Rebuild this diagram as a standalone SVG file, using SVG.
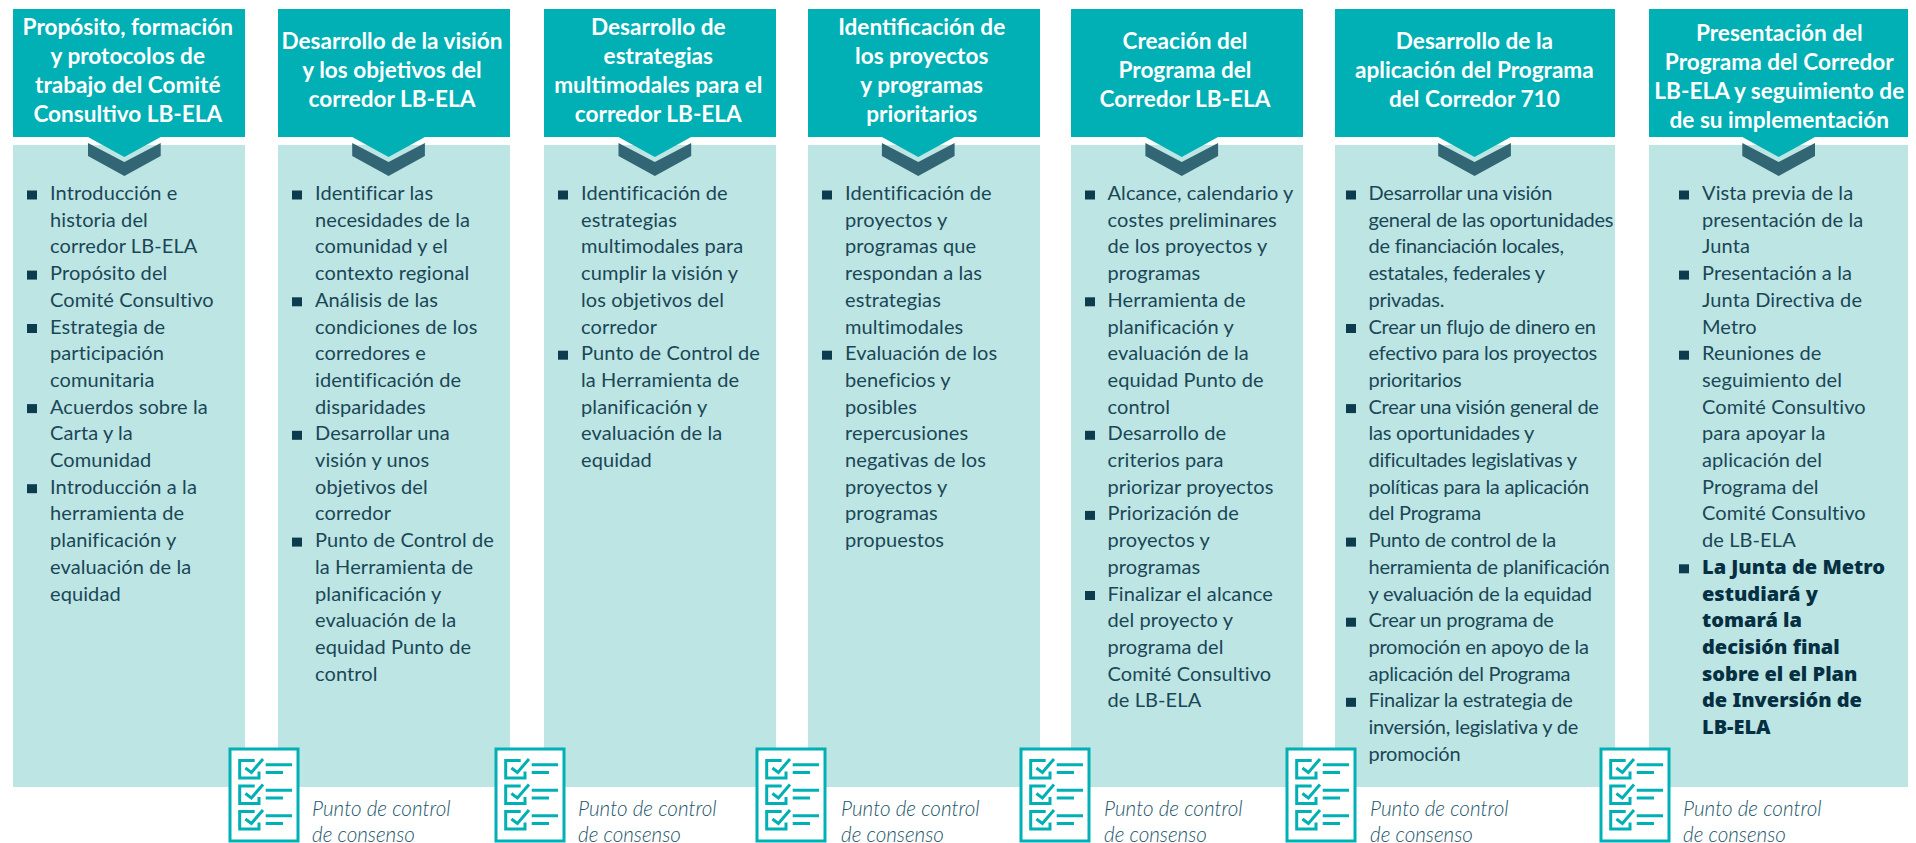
<svg xmlns="http://www.w3.org/2000/svg" width="1916" height="843" viewBox="0 0 1916 843">
<style>
.h{fill:#00b0b5}.b{fill:#bde5e3}.d{fill:#336675}.k{fill:#0d3c4f}
.ht{font:700 22.6px Lato,"Open Sans",sans-serif;fill:#fff;text-anchor:middle}
.t{font:400 20px Lato,"Open Sans",sans-serif;fill:#1a4757;letter-spacing:.1px}
.n .t{letter-spacing:-.25px}
.tb{font:900 20px "Noto Sans","Open Sans",sans-serif;fill:#052f42}
.p{font:italic 300 20.6px Lato,"Open Sans",sans-serif;fill:#22566a}
.ic{fill:none;stroke:#00b0b5;stroke-width:3}
</style>
<defs>
<g id="row"><path class="ic" d="M25.7 12.4H10.7V30H30V23.4M16.4 20L22.4 24.4L34 11M36.7 16.7H63M36.7 24.4H54"/></g>
<g id="check"><rect x="1" y="1" width="68" height="92" fill="#fff" stroke="#00b0b5" stroke-width="3"/><use href="#row"/><use href="#row" y="25.5"/><use href="#row" y="51"/></g>
<g id="chev"><polygon class="d" points="0,143 36.35,162 72.7,143 72.7,156 36.35,176 0,156"/><polygon class="h" points="0,137 72.7,137 36.35,157"/></g>
</defs>
<g id="col1">
<rect class="b" x="13" y="145" width="232" height="642"/><rect class="h" x="13" y="9" width="232" height="128"/><use href="#chev" x="88"/>
<text class="ht" x="127.800" y="35">Propósito, formación</text><text class="ht" x="127.800" y="64">y protocolos de</text><text class="ht" x="127.800" y="93">trabajo del Comité</text><text class="ht" x="127.800" y="121.500">Consultivo LB-ELA</text>
<g transform="translate(50 0)">
<rect class="k" x="-23" y="190.500" width="10" height="9"/><text class="t" y="200">Introducción e</text><text class="t" y="226.700">historia del</text><text class="t" y="253.400">corredor LB-ELA</text>
<rect class="k" x="-23" y="270.600" width="10" height="9"/><text class="t" y="280.100">Propósito del</text><text class="t" y="306.800">Comité Consultivo</text>
<rect class="k" x="-23" y="324" width="10" height="9"/><text class="t" y="333.500">Estrategia de</text><text class="t" y="360.200">participación</text><text class="t" y="386.900">comunitaria</text>
<rect class="k" x="-23" y="404.100" width="10" height="9"/><text class="t" y="413.600">Acuerdos sobre la</text><text class="t" y="440.300">Carta y la</text><text class="t" y="467">Comunidad</text>
<rect class="k" x="-23" y="484.200" width="10" height="9"/><text class="t" y="493.700">Introducción a la</text><text class="t" y="520.400">herramienta de</text><text class="t" y="547.100">planificación y</text><text class="t" y="573.800">evaluación de la</text><text class="t" y="600.500">equidad</text>
</g></g>
<g id="col2">
<rect class="b" x="278" y="145" width="232" height="642"/><rect class="h" x="278" y="9" width="232" height="128"/><use href="#chev" x="352.200"/>
<text class="ht" x="392" y="49">Desarrollo de la visión</text><text class="ht" x="392" y="78">y los objetivos del</text><text class="ht" x="392" y="107">corredor LB-ELA</text>
<g transform="translate(315 0)">
<rect class="k" x="-23" y="190.500" width="10" height="9"/><text class="t" y="200">Identificar las</text><text class="t" y="226.700">necesidades de la</text><text class="t" y="253.400">comunidad y el</text><text class="t" y="280.100">contexto regional</text>
<rect class="k" x="-23" y="297.300" width="10" height="9"/><text class="t" y="306.800">Análisis de las</text><text class="t" y="333.500">condiciones de los</text><text class="t" y="360.200">corredores e</text><text class="t" y="386.900">identificación de</text><text class="t" y="413.600">disparidades</text>
<rect class="k" x="-23" y="430.800" width="10" height="9"/><text class="t" y="440.300">Desarrollar una</text><text class="t" y="467">visión y unos</text><text class="t" y="493.700">objetivos del</text><text class="t" y="520.400">corredor</text>
<rect class="k" x="-23" y="537.600" width="10" height="9"/><text class="t" y="547.100">Punto de Control de</text><text class="t" y="573.800">la Herramienta de</text><text class="t" y="600.500">planificación y</text><text class="t" y="627.200">evaluación de la</text><text class="t" y="653.900">equidad Punto de</text><text class="t" y="680.600">control</text>
</g></g>
<g id="col3">
<rect class="b" x="544" y="145" width="232" height="642"/><rect class="h" x="544" y="9" width="232" height="128"/><use href="#chev" x="618.500"/>
<text class="ht" x="658.300" y="35">Desarrollo de</text><text class="ht" x="658.300" y="64">estrategias</text><text class="ht" x="658.300" y="93">multimodales para el</text><text class="ht" x="658.300" y="121.500">corredor LB-ELA</text>
<g transform="translate(581 0)">
<rect class="k" x="-23" y="190.500" width="10" height="9"/><text class="t" y="200">Identificación de</text><text class="t" y="226.700">estrategias</text><text class="t" y="253.400">multimodales para</text><text class="t" y="280.100">cumplir la visión y</text><text class="t" y="306.800">los objetivos del</text><text class="t" y="333.500">corredor</text>
<rect class="k" x="-23" y="350.700" width="10" height="9"/><text class="t" y="360.200">Punto de Control de</text><text class="t" y="386.900">la Herramienta de</text><text class="t" y="413.600">planificación y</text><text class="t" y="440.300">evaluación de la</text><text class="t" y="467">equidad</text>
</g></g>
<g id="col4">
<rect class="b" x="808" y="145" width="232" height="642"/><rect class="h" x="808" y="9" width="232" height="128"/><use href="#chev" x="881.900"/>
<text class="ht" x="921.700" y="35">Identificación de</text><text class="ht" x="921.700" y="64">los proyectos</text><text class="ht" x="921.700" y="93">y programas</text><text class="ht" x="921.700" y="121.500">prioritarios</text>
<g transform="translate(845 0)">
<rect class="k" x="-23" y="190.500" width="10" height="9"/><text class="t" y="200">Identificación de</text><text class="t" y="226.700">proyectos y</text><text class="t" y="253.400">programas que</text><text class="t" y="280.100">respondan a las</text><text class="t" y="306.800">estrategias</text><text class="t" y="333.500">multimodales</text>
<rect class="k" x="-23" y="350.700" width="10" height="9"/><text class="t" y="360.200">Evaluación de los</text><text class="t" y="386.900">beneficios y</text><text class="t" y="413.600">posibles</text><text class="t" y="440.300">repercusiones</text><text class="t" y="467">negativas de los</text><text class="t" y="493.700">proyectos y</text><text class="t" y="520.400">programas</text><text class="t" y="547.100">propuestos</text>
</g></g>
<g id="col5">
<rect class="b" x="1071" y="145" width="232" height="642"/><rect class="h" x="1071" y="9" width="232" height="128"/><use href="#chev" x="1145.400"/>
<text class="ht" x="1185" y="49">Creación del</text><text class="ht" x="1185" y="78">Programa del</text><text class="ht" x="1185" y="107">Corredor LB-ELA</text>
<g transform="translate(1107.500 0)">
<rect class="k" x="-22.500" y="190.500" width="10" height="9"/><text class="t" y="200">Alcance, calendario y</text><text class="t" y="226.700">costes preliminares</text><text class="t" y="253.400">de los proyectos y</text><text class="t" y="280.100">programas</text>
<rect class="k" x="-22.500" y="297.300" width="10" height="9"/><text class="t" y="306.800">Herramienta de</text><text class="t" y="333.500">planificación y</text><text class="t" y="360.200">evaluación de la</text><text class="t" y="386.900">equidad Punto de</text><text class="t" y="413.600">control</text>
<rect class="k" x="-22.500" y="430.800" width="10" height="9"/><text class="t" y="440.300">Desarrollo de</text><text class="t" y="467">criterios para</text><text class="t" y="493.700">priorizar proyectos</text>
<rect class="k" x="-22.500" y="510.900" width="10" height="9"/><text class="t" y="520.400">Priorización de</text><text class="t" y="547.100">proyectos y</text><text class="t" y="573.800">programas</text>
<rect class="k" x="-22.500" y="591" width="10" height="9"/><text class="t" y="600.500">Finalizar el alcance</text><text class="t" y="627.200">del proyecto y</text><text class="t" y="653.900">programa del</text><text class="t" y="680.600">Comité Consultivo</text><text class="t" y="707.300">de LB-ELA</text>
</g></g>
<g id="col6">
<rect class="b" x="1335" y="145" width="280" height="642"/><rect class="h" x="1335" y="9" width="280" height="128"/><use href="#chev" x="1438.200"/>
<text class="ht" x="1474.400" y="49">Desarrollo de la</text><text class="ht" x="1474.400" y="78">aplicación del Programa</text><text class="ht" x="1474.400" y="107">del Corredor 710</text>
<g class="n" transform="translate(1368.500 0)">
<rect class="k" x="-22.500" y="190.500" width="10" height="9"/><text class="t" y="200">Desarrollar una visión</text><text class="t" y="226.700">general de las oportunidades</text><text class="t" y="253.400">de financiación locales,</text><text class="t" y="280.100">estatales, federales y</text><text class="t" y="306.800">privadas.</text>
<rect class="k" x="-22.500" y="324" width="10" height="9"/><text class="t" y="333.500">Crear un flujo de dinero en</text><text class="t" y="360.200">efectivo para los proyectos</text><text class="t" y="386.900">prioritarios</text>
<rect class="k" x="-22.500" y="404.100" width="10" height="9"/><text class="t" y="413.600">Crear una visión general de</text><text class="t" y="440.300">las oportunidades y</text><text class="t" y="467">dificultades legislativas y</text><text class="t" y="493.700">políticas para la aplicación</text><text class="t" y="520.400">del Programa</text>
<rect class="k" x="-22.500" y="537.600" width="10" height="9"/><text class="t" y="547.100">Punto de control de la</text><text class="t" y="573.800">herramienta de planificación</text><text class="t" y="600.500">y evaluación de la equidad</text>
<rect class="k" x="-22.500" y="617.700" width="10" height="9"/><text class="t" y="627.200">Crear un programa de</text><text class="t" y="653.900">promoción en apoyo de la</text><text class="t" y="680.600">aplicación del Programa</text>
<rect class="k" x="-22.500" y="697.800" width="10" height="9"/><text class="t" y="707.300">Finalizar la estrategia de</text><text class="t" y="734">inversión, legislativa y de</text><text class="t" y="760.700">promoción</text>
</g></g>
<g id="col7">
<rect class="b" x="1649" y="145" width="259" height="642"/><rect class="h" x="1649" y="9" width="259" height="128"/><use href="#chev" x="1742.300"/>
<text class="ht" x="1779.300" y="41">Presentación del</text><text class="ht" x="1779.300" y="70">Programa del Corredor</text><text class="ht" x="1779.300" y="99">LB-ELA y seguimiento de</text><text class="ht" x="1779.300" y="127.500">de su implementación</text>
<g transform="translate(1702 0)">
<rect class="k" x="-23" y="190.500" width="10" height="9"/><text class="t" y="200">Vista previa de la</text><text class="t" y="226.700">presentación de la</text><text class="t" y="253.400">Junta</text>
<rect class="k" x="-23" y="270.600" width="10" height="9"/><text class="t" y="280.100">Presentación a la</text><text class="t" y="306.800">Junta Directiva de</text><text class="t" y="333.500">Metro</text>
<rect class="k" x="-23" y="350.700" width="10" height="9"/><text class="t" y="360.200">Reuniones de</text><text class="t" y="386.900">seguimiento del</text><text class="t" y="413.600">Comité Consultivo</text><text class="t" y="440.300">para apoyar la</text><text class="t" y="467">aplicación del</text><text class="t" y="493.700">Programa del</text><text class="t" y="520.400">Comité Consultivo</text><text class="t" y="547.100">de LB-ELA</text>
<rect class="k" x="-23" y="564.300" width="10" height="9"/><text class="tb" y="573.800">La Junta de Metro</text><text class="tb" y="600.500">estudiará y</text><text class="tb" y="627.200">tomará la</text><text class="tb" y="653.900">decisión final</text><text class="tb" y="680.600">sobre el el Plan</text><text class="tb" y="707.300">de Inversión de</text><text class="tb" y="734">LB-ELA</text>
</g></g>
<g id="check1"><use href="#check" x="229" y="748"/><text class="p" x="312" y="816">Punto de control</text><text class="p" x="312" y="842">de consenso</text></g>
<g id="check2"><use href="#check" x="495" y="748"/><text class="p" x="578" y="816">Punto de control</text><text class="p" x="578" y="842">de consenso</text></g>
<g id="check3"><use href="#check" x="756" y="748"/><text class="p" x="841" y="816">Punto de control</text><text class="p" x="841" y="842">de consenso</text></g>
<g id="check4"><use href="#check" x="1020" y="748"/><text class="p" x="1104" y="816">Punto de control</text><text class="p" x="1104" y="842">de consenso</text></g>
<g id="check5"><use href="#check" x="1286" y="748"/><text class="p" x="1370" y="816">Punto de control</text><text class="p" x="1370" y="842">de consenso</text></g>
<g id="check6"><use href="#check" x="1600" y="748"/><text class="p" x="1683" y="816">Punto de control</text><text class="p" x="1683" y="842">de consenso</text></g>
</svg>
